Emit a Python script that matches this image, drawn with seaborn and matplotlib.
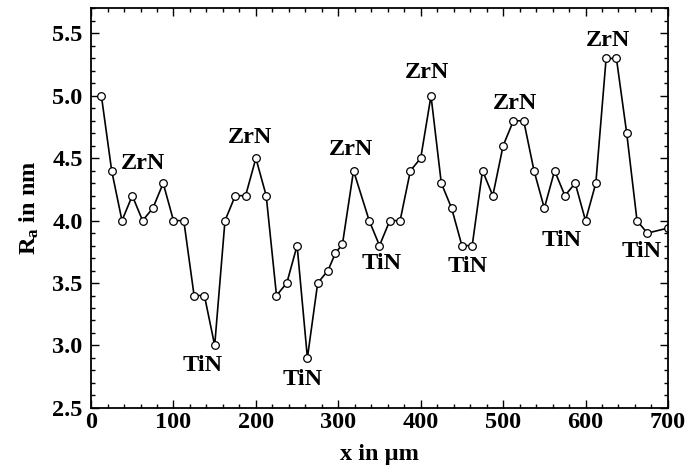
import numpy as np
import pandas as pd
import matplotlib
matplotlib.use("Agg")
import matplotlib.pyplot as plt
import seaborn as sns
from matplotlib.ticker import MultipleLocator

# Data
x_um = [12.5, 25, 37.5, 50, 62.5, 75, 87.5, 100, 112.5, 125, 137.5, 150, 162.5,
        175, 187.5, 200, 212.5, 225, 237.5, 250, 262.5, 275, 287.5, 296.5, 305,
        318.5, 337.5, 350, 362.5, 375, 387.5, 400, 412.5, 425, 437.5, 450, 462.5,
        475, 487.5, 500, 512.5, 525, 537.5, 550, 562.5, 575, 587.5, 600, 612.5,
        625, 637.5, 650, 662.5, 675, 700]
ra_nm = [5.0, 4.4, 4.0, 4.2, 4.0, 4.1, 4.3, 4.0, 4.0, 3.4, 3.4, 3.0, 4.0,
         4.2, 4.2, 4.5, 4.2, 3.4, 3.5, 3.8, 2.9, 3.5, 3.6, 3.74, 3.81,
         4.4, 4.0, 3.8, 4.0, 4.0, 4.4, 4.5, 5.0, 4.3, 4.1, 3.8, 3.8,
         4.4, 4.2, 4.6, 4.8, 4.8, 4.4, 4.1, 4.4, 4.2, 4.3, 4.0, 4.3,
         5.3, 5.3, 4.7, 4.0, 3.9, 3.94]

label_text = ["ZrN", "ZrN", "ZrN", "ZrN", "ZrN", "ZrN",
              "TiN", "TiN", "TiN", "TiN", "TiN", "TiN"]
label_x = [62.6, 193.0, 314.9, 407.8, 514.3, 627.8,
           135.9, 257.0, 352.1, 456.6, 570.9, 668.5]
label_y = [4.46, 4.67, 4.57, 5.19, 4.94, 5.44,
           2.84, 2.73, 3.66, 3.63, 3.84, 3.75]

x_ticks = [0, 100, 200, 300, 400, 500, 600, 700]
y_ticks = [2.5, 3.0, 3.5, 4.0, 4.5, 5.0, 5.5]

sns.set_style("ticks")
plt.rcParams['font.family'] = ['Liberation Serif', 'DejaVu Serif']
plt.rcParams['font.weight'] = 'bold'
plt.rcParams['text.color'] = 'black'
plt.rcParams['axes.labelcolor'] = 'black'
plt.rcParams['xtick.color'] = 'black'
plt.rcParams['ytick.color'] = 'black'
plt.rcParams['mathtext.fontset'] = 'custom'
plt.rcParams['mathtext.rm'] = 'Liberation Serif:bold'
plt.rcParams['mathtext.it'] = 'Liberation Serif:bold:italic'
plt.rcParams['mathtext.bf'] = 'Liberation Serif:bold'

df = pd.DataFrame({"x": x_um, "Ra": ra_nm})

fig = plt.figure(figsize=(6.9, 4.72), dpi=100)
ax = fig.add_axes([0.132, 0.136, 0.836, 0.846])

sns.lineplot(data=df, x="x", y="Ra", ax=ax, color="black", linewidth=1.2,
             marker="o", markersize=5.5, markerfacecolor="white",
             markeredgecolor="black", markeredgewidth=0.9)

fs = 17.5
for t, lx, ly in zip(label_text, label_x, label_y):
    ax.text(lx, ly, t, ha="center", va="center", fontsize=fs,
            fontweight="bold", color="black")

ax.set_xlim(0, 700)
ax.set_ylim(2.5, 5.7)
ax.set_xticks(x_ticks)
ax.set_yticks(y_ticks)
ax.set_yticklabels([f"{v:.1f}" for v in y_ticks])
ax.xaxis.set_minor_locator(MultipleLocator(20))
ax.yaxis.set_minor_locator(MultipleLocator(0.1))
ax.tick_params(which="both", direction="in", top=True, right=True,
               labelsize=fs, width=1.0, color="black", labelcolor="black")
ax.tick_params(which="major", length=6)
ax.tick_params(axis="y", which="major", pad=6)
ax.tick_params(axis="x", which="major", pad=3)
ax.tick_params(which="minor", length=3)
for lbl in ax.get_xticklabels() + ax.get_yticklabels():
    lbl.set_fontweight("bold")
for s in ax.spines.values():
    s.set_linewidth(1.3)
    s.set_color("black")
    s.set_visible(True)

ax.set_xlabel("x in \u00b5m", fontsize=fs, fontweight="bold", labelpad=8)
ax.set_ylabel("R$_\\mathrm{a}$ in nm", fontsize=fs, fontweight="bold", labelpad=8)

fig.savefig("out.png", dpi=100)
